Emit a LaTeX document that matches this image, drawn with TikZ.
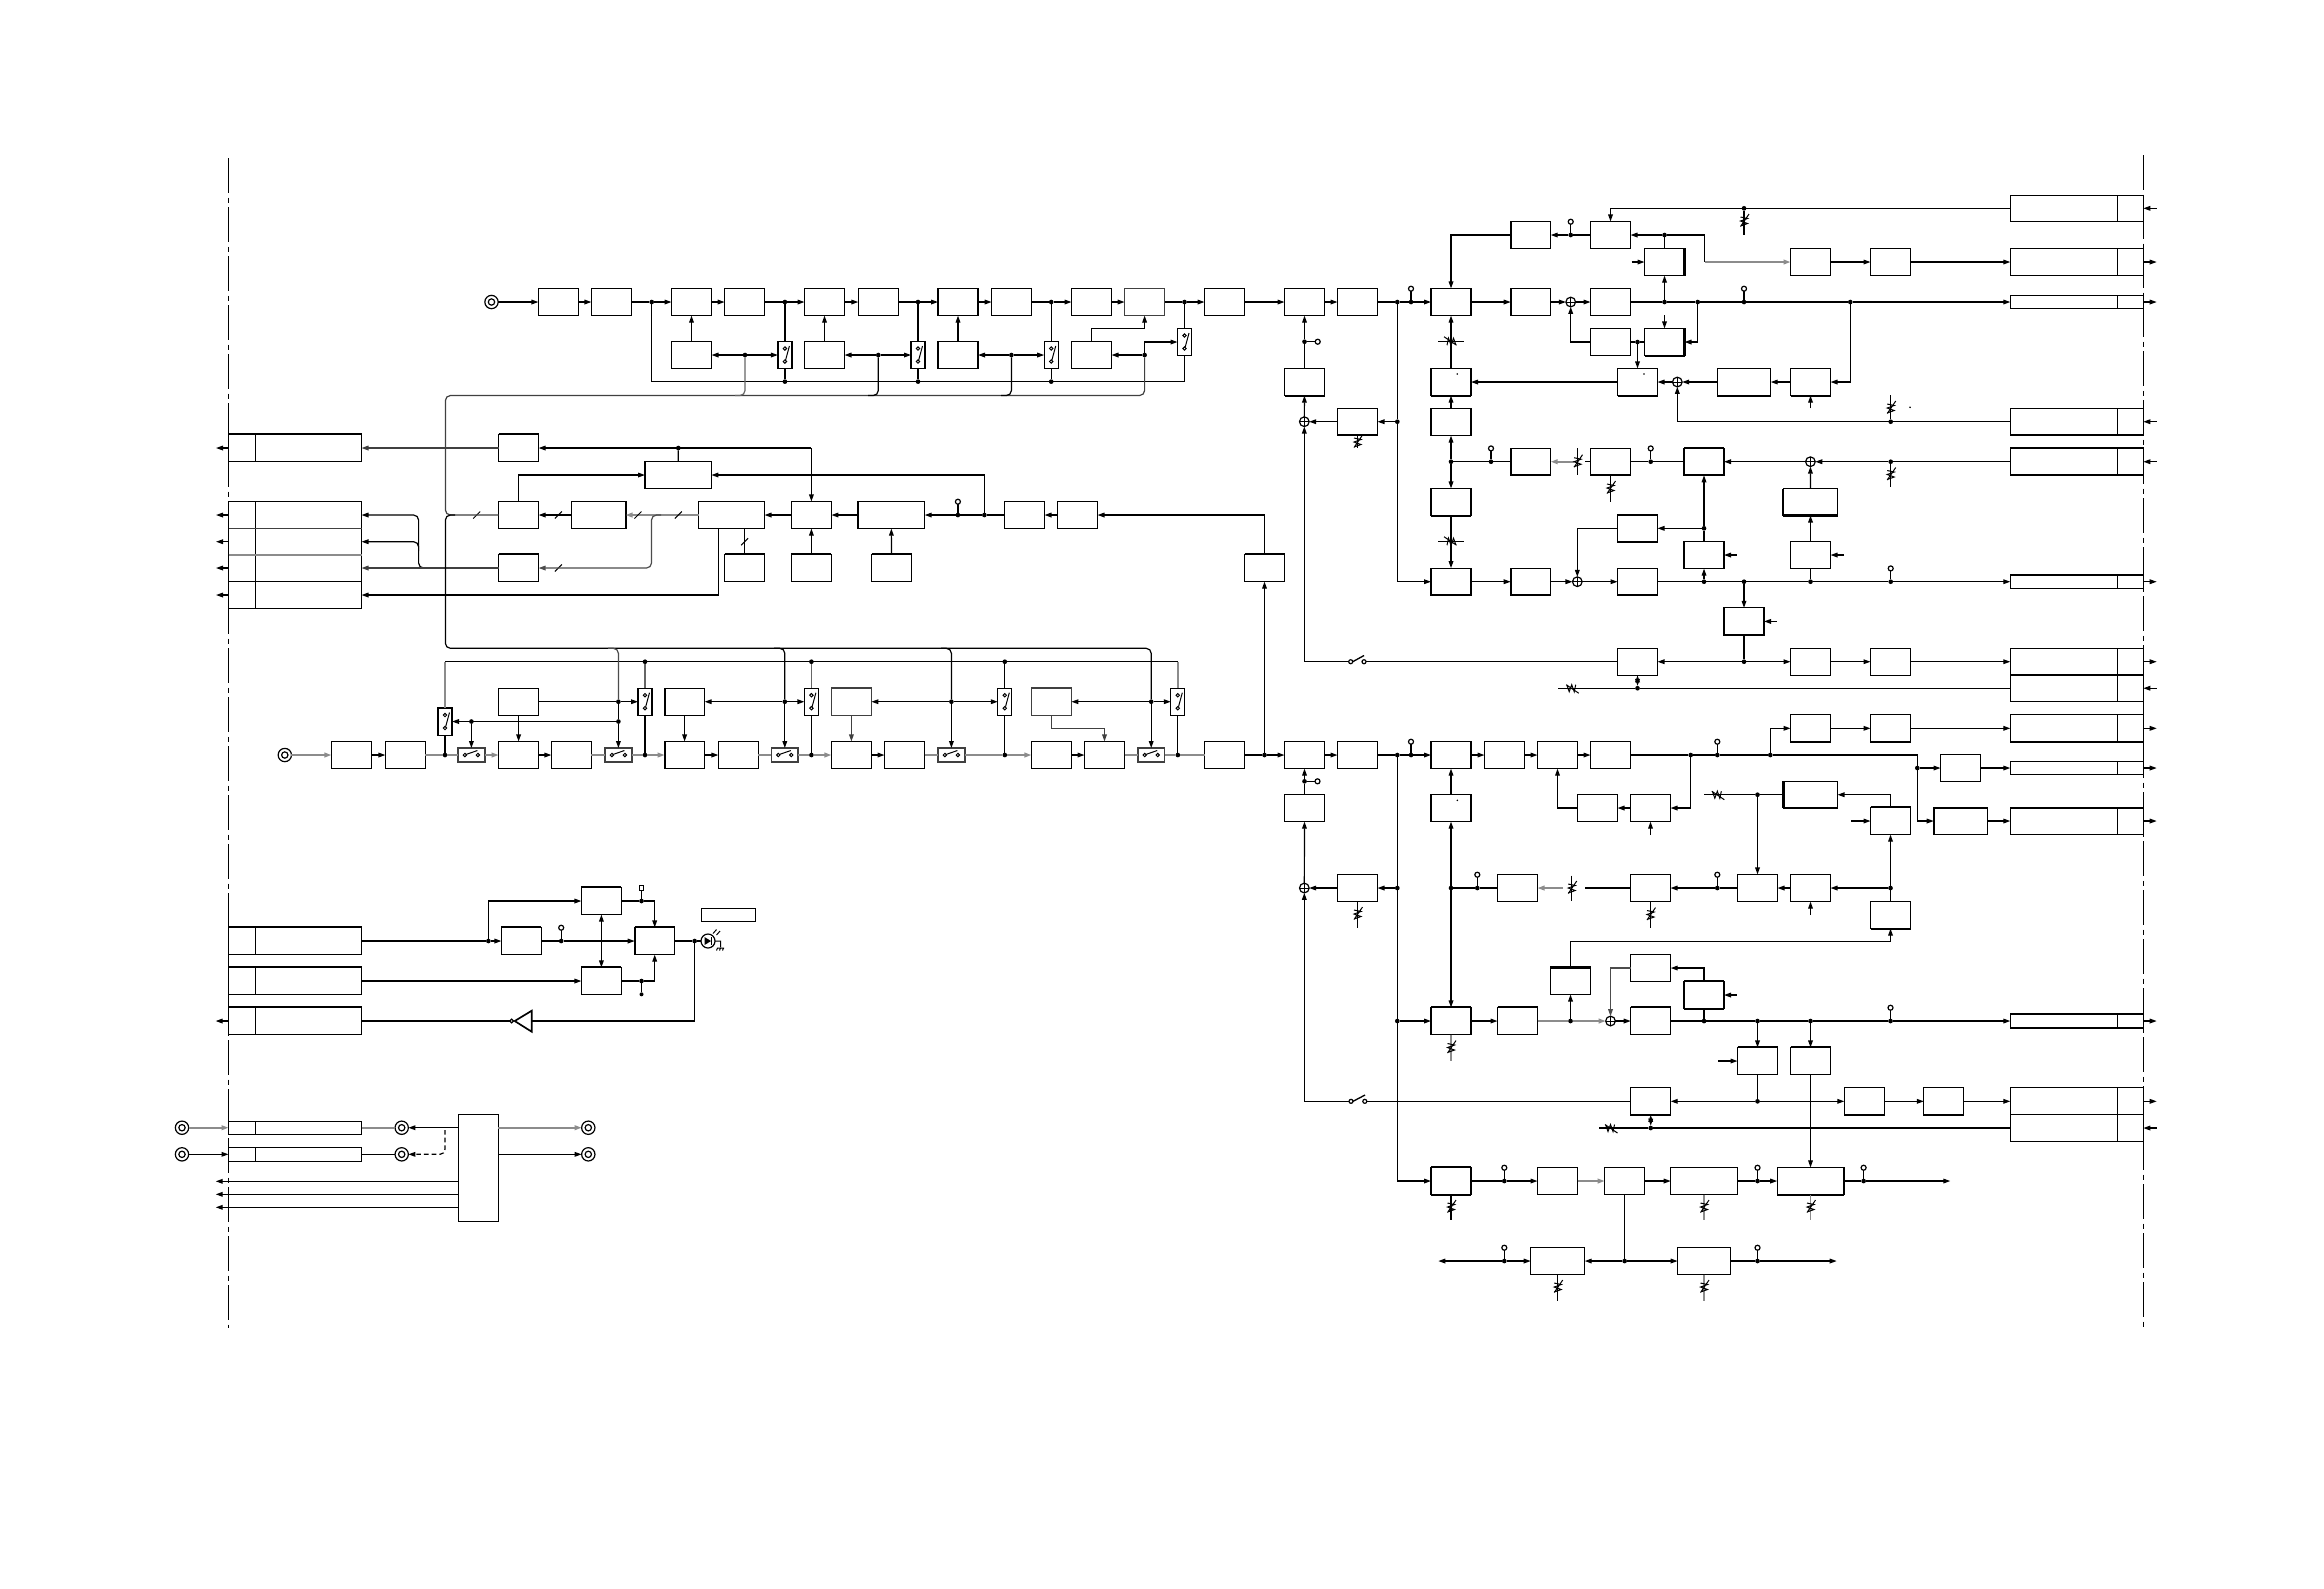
\documentclass[tikz,border=0pt]{standalone}
\usetikzlibrary{arrows.meta}
\def\uu{0.3pt}
\tikzset{
  bx/.style={draw,rectangle,inner sep=0pt,outer sep=0pt},
  jn/.style={circle,fill=black,inner sep=0pt,outer sep=0pt,minimum size=1.4pt},
  tpn/.style={circle,draw,fill=white,inner sep=0pt,outer sep=0pt,minimum size=1.5pt},
  jko/.style={circle,draw,inner sep=0pt,outer sep=0pt,minimum size=4pt},
  jki/.style={circle,draw,inner sep=0pt,outer sep=0pt,minimum size=1.9pt},
  smn/.style={circle,draw,inner sep=0pt,outer sep=0pt,minimum size=2.9pt},
  ar/.style={-{Triangle[length=2.1pt,width=1.4pt]}},
  bothar/.style={{Triangle[length=2.1pt,width=1.4pt]}-{Triangle[length=2.1pt,width=1.4pt]}},
  thk/.style={line width=0.62pt},
  gl/.style={draw=black!45,line width=0.5pt},
  hl/.style={draw=black!75,line width=0.45pt},
  rc/.style={rounded corners=1.5pt},
  dashline/.style={dash pattern=on 10.5pt off 1.35pt on 1.5pt off 1.35pt},
  small/.style={line width=0.3pt}
}
\newcommand\Bx[6][]{\node[bx,minimum width={#5*\uu},minimum height={#6*\uu},#1] (#2) at (#3,#4) {};}
\newcommand\Bd[4][]{\Bx[#1]{#2}{#3}{#4}{40}{27.2}}
\newcommand\TT[1]{\draw[thk] (#1.north west) -- (#1.north east);}
\newcommand\TB[1]{\draw[thk] (#1.south west) -- (#1.south east);}
\newcommand\TL[1]{\draw[thk] (#1.north west) -- (#1.south west);}
\newcommand\TR[1]{\draw[thk] (#1.north east) -- (#1.south east);}
\newcommand\Jn[3]{\node[jn] (#1) at (#2,#3) {};}
\newcommand\Jt[3]{\node[jn] (#1) at (#2,#3) {};\node[tpn] (#1t) at (#2,#3-13.3) {};\draw (#1) -- (#1t);}
\newcommand\Jk[3]{\node[jko] (#1) at (#2,#3) {};\node[jki] (#1i) at (#2,#3) {};}
\newcommand\Sm[3]{\node[smn] (#1) at (#2,#3) {};\draw[small] (#1.north) -- (#1.south);\draw[small] (#1.west) -- (#1.east);}
\newcommand\SwV[3]{\Bx{#1}{#2}{#3}{14}{27.2}
  \draw[small,fill=white] (#2,#3-6.5) circle (1.7);
  \draw[small,fill=white] (#2,#3+6.5) circle (1.7);
  \draw[small] (#2+0.7,#3+5) -- (#2+4.5,#3-9);}
\newcommand\SwH[3]{\Bx[hl]{#1}{#2}{#3}{26.8}{14}
  \draw[small,fill=white] (#2-6.5,#3) circle (1.7);
  \draw[small,fill=white] (#2+6.5,#3) circle (1.7);
  \draw[small] (#2-5,#3-0.7) -- (#2+6,#3-4.5);}
\newcommand\Vr[3]{\draw[shift={(#1,#2)},rotate=#3,small,line join=miter]
  (-3.5,5) -- (3.5,2.5) -- (-3.5,0) -- (3.5,-2.5) -- (-3.5,-4) (-3.5,5.5) -- (5,-7);}
\newcommand\Sl[2]{\draw[small] (#1-3.5,#2+3.5) -- (#1+3.5,#2-3.5);}
\newcommand\RTb[3]{\Bx{#1}{2076.8}{#2}{133}{#3}\draw (2117.3,#2-#3/2) -- (2117.3,#2+#3/2);}
\newcommand\LTb[3]{\Bx{#1}{295}{#2}{133}{#3}\draw (255.3,#2-#3/2) -- (255.3,#2+#3/2);}
\newcommand\OutR[2]{\coordinate (#1o) at (2156.7,#2);\draw[ar] (#1) -- (#1o);}
\newcommand\InR[2]{\coordinate (#1o) at (2156.7,#2);\draw[ar] (#1o) -- (#1);}
\begin{document}
\begin{tikzpicture}[x=0.3pt,y=-0.3pt,line width=0.36pt,line cap=butt]
\useasboundingbox (0,0) rectangle (2324,1588);
\fill[white] (0,0) rectangle (2324,1588);
% boundary lines
\coordinate (dl1) at (228.5,158); \coordinate (dl2) at (228.5,1328);
\coordinate (dr1) at (2143.3,155); \coordinate (dr2) at (2143.3,1328);
\draw[dashline] (dl1) -- (dl2);
\draw[dashline] (dr1) -- (dr2);

% ===== top row =====
\Jk{ja}{491.5}{302}
\Bd{a1}{558.4}{302}\Bd{a2}{611.4}{302}\Bd{a3}{691.5}{302}\Bd{a4}{744.6}{302}
\Bd{a5}{824.5}{302}\Bd{a6}{878.3}{302}\Bd{a7}{958}{302}\Bd{a8}{1011.6}{302}
\Bd{a9}{1091.5}{302}\Bd[hl]{a10}{1144.6}{302}\Bd{a11}{1224.5}{302}
\Jn{ja1}{651.7}{302}\Jn{ja2}{784.9}{302}\Jn{ja3}{918}{302}\Jn{ja4}{1051.2}{302}\Jn{ja5}{1184.5}{302}
\draw[ar] (ja) -- (a1); \draw[ar] (a1) -- (a2); \draw (a2) -- (ja1); \draw[ar] (ja1) -- (a3);
\draw[ar] (a3) -- (a4); \draw (a4) -- (ja2); \draw[ar] (ja2) -- (a5); \draw[ar] (a5) -- (a6);
\draw (a6) -- (ja3); \draw[ar] (ja3) -- (a7); \draw[ar] (a7) -- (a8); \draw (a8) -- (ja4);
\draw[ar] (ja4) -- (a9); \draw[ar] (a9) -- (a10); \draw (a10) -- (ja5); \draw[ar] (ja5) -- (a11);
\Bd{c1}{691.5}{355}\Bd{c2}{824.5}{355}\Bd{c3}{958}{355}\Bd{c4}{1091.5}{355}
\Jn{jc1}{745}{355}\Jn{jc2}{878.3}{355}\Jn{jc3}{1011.4}{355}\Jn{jc4}{1144.6}{355}
\SwV{sv1}{784.9}{355}\SwV{sv2}{918}{355}\SwV{sv3}{1051.2}{355}\SwV{sv4}{1184.5}{342}
\draw[ar] (jc1) -- (c1); \draw[ar] (jc1) -- (sv1); \draw[ar] (jc2) -- (c2); \draw[ar] (jc2) -- (sv2);
\draw[ar] (jc3) -- (c3); \draw[ar] (jc3) -- (sv3); \draw[ar] (jc4) -- (c4); \draw[ar] (jc4) |- (sv4);
\draw[ar] (c1) -- (a3); \draw[ar] (c2) -- (a5); \draw[ar] (c3) -- (a7);
\coordinate (k1) at (1091.5,328.3); \draw[ar] (c4) -- (k1) -| (a10);
\coordinate (kb1) at (651.7,381.6); \coordinate (kb5) at (1184.5,381.6);
\Jn{jb2}{784.9}{381.6}\Jn{jb3}{918}{381.6}\Jn{jb4}{1051.2}{381.6}
\draw (ja1) -- (kb1) -- (kb5) -- (sv4); \draw (sv4) -- (ja5);
\draw (ja2) -- (sv1); \draw (sv1) -- (jb2); \draw (ja3) -- (sv2); \draw (sv2) -- (jb3);
\draw (ja4) -- (sv3); \draw (sv3) -- (jb4);

% ===== middle row =====
\Bd{m1}{1077.5}{515}\Bd{m2}{1024.5}{515}\Jn{jm}{984.4}{515}\Jt{jmt}{957.9}{515}
\Bx{m3}{891.3}{515}{66.8}{27.2}\Bd{m4}{811.4}{515}\Bx{m5}{731.6}{515}{65.8}{27.2}
\Bx{m6}{598.6}{515}{54}{27.2}\Bd{m7}{518.6}{515}\TR{m6}
\Bd{p1}{518.6}{448}\TT{p1}\Bx{p2}{678.2}{475}{66.4}{27.2}\TL{p2}
\Bd{n2}{518.6}{568}\TT{n2}\Bd{q1}{744.6}{568}\TT{q1}\Bd{q2}{811.4}{568}\TT{q2}\Bd{q3}{891.5}{568}\TT{q3}
\draw[ar] (m1) -- (m2); \draw (m2) -- (jm) -- (jmt); \draw[ar] (jmt) -- (m3); \draw[ar] (m3) -- (m4);
\draw[ar] (m4) -- (m5); \draw[ar,gl] (m5) -- (m6); \draw[ar] (m6) -- (m7);
\Sl{678.3}{515}\Sl{638}{515}\Sl{558.4}{515}\Sl{476.7}{515}\Sl{558.4}{568}\Sl{744.6}{541.7}
\coordinate (kp) at (811.4,448); \Jn{jp}{678.3}{448}
\draw[ar] (kp) -- (p1); \draw[ar] (kp) -- (m4); \draw (jp) -- (p2);
\draw[ar] (m7) |- (p2); \draw[ar] (jm) |- (p2);
\draw (q1) -- (m5.south -| q1); \draw[ar] (q2) -- (m4); \draw[ar] (q3) -- (m3);
\coordinate (kn) at (661,515); \coordinate (kn2) at (651.5,515); \coordinate (kn3) at (651.5,568);
\draw[ar,rc,draw=black!70] (kn) -- (kn2) -- (kn3) -- (n2);

% left tables
\LTb{tb1}{448}{27.4}\TT{tb1}
\Bx{tb2}{295}{555}{133}{106.6}\draw (255.3,501.7) -- (255.3,608.3);
\coordinate (tl1) at (228.5,528.3); \coordinate (tr1) at (361.5,528.3); \draw[draw=black!75] (tl1) -- (tr1);
\coordinate (tl2) at (228.5,555); \coordinate (tr2) at (361.5,555); \draw[gl,line width=0.7pt] (tl2) -- (tr2);
\coordinate (tl3) at (228.5,581.7); \coordinate (tr3) at (361.5,581.7); \draw (tl3) -- (tr3);
\foreach \nm/\yy in {oa/448,ob/515,oc/541.7,od/568,oe/595}{\coordinate (\nm) at (216,\yy); \coordinate (\nm r) at (228.5,\yy); \draw[ar] (\nm r) -- (\nm);}
\coordinate (ta) at (361.5,515); \coordinate (tb) at (361.5,541.7); \coordinate (tc) at (361.5,568); \coordinate (td) at (361.5,595);
\draw[ar,draw=black!75] (p1) -- (tb1);
\coordinate (ke1) at (428,568); \coordinate (ke2) at (418.6,568); \coordinate (ke3) at (418.6,515);
\draw[ar,rc] (ke1) -- (ke2) -- (ke3) -- (ta);
\coordinate (kf1) at (418.6,551); \coordinate (kf2) at (418.6,541.7);
\draw[ar,rc] (kf1) -- (kf2) -- (tb);
\draw[ar,draw=black!75] (n2) -- (tc);
\coordinate (kg1) at (718.6,528.6); \coordinate (kg2) at (718.6,595);
\draw[ar] (kg1) -- (kg2) -- (td);

% control bus with rounded corners
\coordinate (c1a) at (445.4,395.5); \coordinate (c1b) at (445.4,515);
\coordinate (c1c) at (745,395.5); \coordinate (c1d) at (878.3,395.5); \coordinate (c1e) at (1011.4,395.5); \coordinate (c1f) at (1144.6,395.5);
\draw[rc,draw=black!75] (jc4) -- (c1f) -- (c1a) -- (c1b) -- (m7);
\draw[rc,draw=black!60] (jc1) -- (c1c) -- (735,395.5);
\draw[rc] (jc2) -- (c1d) -- (868,395.5);
\draw[rc] (jc3) -- (c1e) -- (1001,395.5);

% ===== lower row =====
\Jk{jd}{284.8}{755}
\Bd{d1}{351.4}{755}\Bd{d2}{405.4}{755}\Jn{jd1}{445}{755}\SwH{sh1}{471.4}{755}
\Bd{d3}{518.6}{755}\Bd{d4}{571.4}{755}\SwH{sh2}{618.4}{755}\Jn{jd2}{645}{755}
\Bd{d5}{684.6}{755}\TL{d5}\Bd{d6}{738.4}{755}\SwH{sh3}{784.8}{755}\Jn{jd3}{811.4}{755}
\Bd{d7}{851.4}{755}\Bd{d8}{904.5}{755}\SwH{sh4}{951.4}{755}\Jn{jd4}{1004.8}{755}
\Bd{d9}{1051.4}{755}\Bd{d10}{1104.5}{755}\SwH{sh5}{1151.2}{755}\Jn{jd5}{1177.8}{755}
\Bd{d11}{1224.6}{755}\Jn{jd6}{1264.5}{755}
\draw[ar,gl] (jd) -- (d1); \draw[ar] (d1) -- (d2); \draw[gl] (d2) -- (jd1); \draw[gl] (jd1) -- (sh1);
\draw[ar,gl] (sh1) -- (d3); \draw[ar] (d3) -- (d4); \draw[gl] (d4) -- (sh2); \draw[gl] (sh2) -- (jd2);
\draw[ar,gl] (jd2) -- (d5); \draw[ar] (d5) -- (d6); \draw[gl] (d6) -- (sh3); \draw[gl] (sh3) -- (jd3);
\draw[ar,gl] (jd3) -- (d7); \draw[ar] (d7) -- (d8); \draw[gl] (d8) -- (sh4); \draw[gl] (sh4) -- (jd4);
\draw[ar,gl] (jd4) -- (d9); \draw[ar] (d9) -- (d10); \draw[gl] (d10) -- (sh5); \draw[gl] (sh5) -- (jd5);
\draw[gl] (jd5) -- (d11); \draw (d11) -- (jd6);
\Bd{u1}{518.6}{701.7}\Bd{u2}{684.6}{701.7}\TL{u2}\Bd[hl]{u3}{851.4}{701.7}\Bd[hl]{u4}{1051.4}{701.7}
\SwV{w1}{645}{701.7}\SwV{w2}{811.4}{701.7}\SwV{w3}{1004.8}{701.7}\SwV{w4}{1177.8}{701.7}\SwV{w0}{445}{721.5}
\Jn{jv1}{618.4}{701.7}\Jn{jv2}{784.8}{701.7}\Jn{jv3}{951.4}{701.7}\Jn{jv4}{1151.2}{701.7}
\Jn{jv5}{618.4}{721.5}\Jn{jv6}{471.4}{721.5}
\draw (u1) -- (jv1); \draw[ar] (jv1) -- (w1); \draw[ar] (jv2) -- (u2); \draw[ar] (jv2) -- (w2);
\draw[ar] (jv3) -- (u3); \draw[ar] (jv3) -- (w3); \draw[ar] (jv4) -- (u4); \draw[ar] (jv4) -- (w4);
\draw[ar] (jv5) -- (w0); \draw[ar] (jv6) -- (sh1);
\draw[ar] (u1) -- (d3); \draw[ar] (u2) -- (d5); \draw[ar,draw=black!75] (u3) -- (d7);
\coordinate (k2) at (1051.4,728.3); \draw[ar,draw=black!75] (u4) -- (k2) -| (d10);
\coordinate (kh0) at (445,661.7); \coordinate (kh5) at (1177.8,661.7);
\Jn{jh1}{645}{661.7}\Jn{jh2}{811.4}{661.7}\Jn{jh3}{1004.8}{661.7}
\draw (kh0) -- (kh5); \draw[gl] (kh0) -- (w0); \draw (w0) -- (jd1);
\draw[draw=black!60] (jh1) -- (w1); \draw (w1) -- (jd2);
\draw[draw=black!60] (jh2) -- (w2); \draw (w2) -- (jd3);
\draw (jh3) -- (w3); \draw (w3) -- (jd4);
\draw[gl] (kh5) -- (w4); \draw (w4) -- (jd5);
% lower control bus
\coordinate (b0a) at (455,515); \coordinate (b0b) at (445.4,515); \coordinate (b0c) at (445.4,648.3);
\coordinate (b1k) at (618.4,648.3); \coordinate (b2k) at (784.8,648.3); \coordinate (b3k) at (951.4,648.3); \coordinate (b4k) at (1151.2,648.3);
\draw[rc] (b0a) -- (b0b) -- (b0c) -- (b4k) -- (jv4); \draw[ar] (jv4) -- (sh5);
\draw[rc,draw=black!70] (608,648.3) -- (b1k) -- (jv1); \draw (jv1) -- (jv5); \draw[ar] (jv5) -- (sh2);
\draw[rc] (774,648.3) -- (b2k) -- (jv2); \draw[ar] (jv2) -- (sh3);
\draw[rc] (941,648.3) -- (b3k) -- (jv3); \draw[ar] (jv3) -- (sh4);

% ===== LED block =====
\LTb{t3}{941}{27.2}\TT{t3}\LTb{t4}{981}{27.2}\TT{t4}\LTb{t5}{1021}{27.2}\TT{t5}
\Jn{jl1}{488.4}{941}\Bd{l1}{521.4}{941}\TT{l1}\Bd{l2}{601.4}{901}\TT{l2}\Bd{l3}{601.4}{981}\TT{l3}
\Bd{l4}{654.7}{941}\TT{l4}\TL{l4}\Jt{jl2}{561.2}{941}\Jn{jl3}{641.5}{901}\Jn{jl4}{641.5}{981}\Jn{jl5}{694.6}{941}
\node[bx,fill=white,minimum size=1.3pt,minimum width=4*\uu,minimum height=4.5*\uu] (sq) at (641.5,888) {};
\node[jn,minimum size=1.2pt] (dotb) at (641.5,994.3) {};
\draw (t3) -- (jl1); \draw[ar] (jl1) -- (l1); \coordinate (k3) at (488.4,901); \draw[ar] (jl1) -- (k3) -- (l2);
\draw (l1) -- (jl2); \draw[ar] (jl2) -- (l4); \draw[ar] (t4) -- (l3);
\draw[bothar] (l2) -- (l3);
\draw (l2) -- (jl3) -- (sq); \draw[ar] (jl3) -| (l4); \draw (l3) -- (jl4) -- (dotb); \draw[ar] (jl4) -| (l4);
\node[smn,minimum size=4.2pt] (led) at (708,941) {};
\draw (l4) -- (jl5) -- (led);
\fill (704.5,937) -- (704.5,945) -- (711,941) -- cycle; \draw[small] (711.5,937) -- (711.5,945);
\draw[small] (713,933.5) -- (716.5,929.5) (716.5,935) -- (720,931);
\draw[small] (715,941) -- (720.5,941) -- (720.5,947) (717,948) -- (724,948) (717.5,948) -- (716.5,950.5) (720.5,948) -- (719.5,950.5) (723.5,948) -- (722.5,950.5);
\Bx{lab}{728.3}{915}{54}{13.4}
\node[tpn,minimum size=1.1pt] (invc) at (511.6,1021) {};
\coordinate (inva) at (514.7,1021); \coordinate (invb) at (531.7,1021);
\draw[line width=.5pt] (inva) -- (531.7,1010.7) -- (531.7,1031.7) -- cycle;
\coordinate (k4) at (694.6,1021); \draw (jl5) -- (k4) -- (invb); \draw (invc) -- (t5);
\coordinate (t5o) at (215.6,1021); \coordinate (t5l) at (228.5,1021); \draw[ar] (t5l) -- (t5o);

% ===== bottom-left =====
\Jk{x1}{182}{1127.7}\Jk{x2}{182}{1154.3}\LTb{x3}{1127.7}{13}\LTb{x4}{1154.3}{13.6}
\Jk{x5}{401.7}{1127.7}\Jk{x6}{401.7}{1154.3}\Jk{x7}{588.3}{1127.7}\Jk{x8}{588.3}{1154.3}
\Bx{xb}{478.3}{1167.8}{40}{107}
\draw[ar,gl] (x1) -- (x3); \draw[ar] (x2) -- (x4);
\draw[gl] (x3) -- (x5); \draw (x4) -- (x6);
\coordinate (xb1) at (458.3,1127.7); \coordinate (xb2) at (498.3,1127.7); \coordinate (xb3) at (498.3,1154.3);
\draw[ar] (xb1) -- (x5); \draw[ar,gl] (xb2) -- (x7); \draw[ar] (xb3) -- (x8);
\coordinate (xd1) at (445,1130); \coordinate (xd2) at (445,1154.3);
\draw[dash pattern=on 1.4pt off 0.9pt,rc,ar] (xd1) -- (xd2) -- (x6);
\foreach \nm/\yy in {xa/1181.3,xc/1194.3,xe/1207.3}{\coordinate (\nm) at (215.7,\yy); \coordinate (\nm b) at (458.3,\yy); \draw[ar] (\nm b) -- (\nm);}

% ===== right top =====
\Bd{b1}{1304.5}{302}\Bd{b2}{1357.5}{302}\Jn{jb0}{1397.3}{302}\Jt{jb1}{1411}{302}
\Bd{b3}{1451}{302}\TL{b3}\TR{b3}\Bd{b4}{1530.7}{302}\TL{b4}\Sm{s1}{1570.7}{302}\Bd{b5}{1610.5}{302}
\Jn{jr1}{1664.5}{302}\Jn{jr2}{1697.7}{302}\Jt{jr3}{1744}{302}\Jn{jr4}{1850.3}{302}
\RTb{rt3}{302}{13}\OutR{rt3}{302}
\draw[ar] (a11) -- (b1); \draw[ar] (b1) -- (b2); \draw (b2) -- (jb0) -- (jb1); \draw[ar] (jb1) -- (b3);
\draw[ar] (b3) -- (b4); \draw[ar] (b4) -- (s1); \draw[ar] (s1) -- (b5);
\draw (b5) -- (jr1) -- (jr2) -- (jr3) -- (jr4); \draw[ar] (jr4) -- (rt3);
\Bd{b6}{1530.7}{235}\TL{b6}\Jt{jr5}{1570.7}{235}\Bd{b7}{1610.5}{235}\Jn{jr6}{1664.5}{235}
\Bd{b8}{1810.5}{262}\Bd{b9}{1890.5}{262}\Bd{b10}{1664.5}{262}\TR{b10}
\RTb{rt2}{262}{27.4}\OutR{rt2}{262}
\draw[ar] (jr6) -- (b7); \draw (b7) -- (jr5); \draw[ar] (jr5) -- (b6); \draw[ar] (b6) -| (b3);
\coordinate (k5) at (1704.7,235); \coordinate (k6) at (1704.7,262);
\draw (jr6) -- (k5) -- (k6); \draw[ar,gl] (k6) -- (b8); \draw[ar] (b8) -- (b9); \draw[ar] (b9) -- (rt2);
\draw (jr6) -- (b10); \draw[ar] (jr1) -- (b10); \coordinate (i1) at (1631.7,262); \draw[ar] (i1) -- (b10);
\RTb{rt1}{208.3}{26}\InR{rt1}{208.3}
\Jn{jr7}{1744}{208.3}\draw[ar] (rt1) -| (b7);
\coordinate (v1) at (1744,235); \draw (jr7) -- (v1); \Vr{1744}{221}{0}
\Bd{b11}{1610.5}{342}\Bd{b12}{1664.5}{342}\TR{b12}\TB{b12}\Jn{jr8}{1637.5}{342}
\coordinate (i2) at (1664.5,315); \draw[ar] (i2) -- (b12);
\draw[ar] (jr2) |- (b12); \draw (b11) -- (jr8) -- (b12);
\draw[ar] (b11) -| (s1);
\Bd{b13}{1637.5}{382}\TB{b13}\Sm{s2}{1677.3}{382}\Bx{b14}{1744}{382}{53.4}{27.2}\TB{b14}\Bd{b15}{1810.5}{382}\TB{b15}
\Bd{b16}{1451}{382}\TL{b16}\TR{b16}\TB{b16}
\draw[ar] (jr8) -- (b13); \draw[ar] (b15) -- (b14); \draw[ar] (b14) -- (s2); \draw[ar] (s2) -- (b13); \draw[ar] (b13) -- (b16);
\draw[ar] (jr4) |- (b15); \coordinate (i3) at (1810.5,408.3); \draw[ar] (i3) -- (b15);
\RTb{rt4}{421.7}{26.7}\TB{rt4}\InR{rt4}{421.7}
\Jn{jr9}{1890.7}{421.7}\draw[ar] (rt4) -| (s2);
\coordinate (v2) at (1890.7,395); \draw (jr9) -- (v2); \Vr{1890.7}{408}{0}
\fill (1457.3,374) circle (0.9); \fill (1644,374) circle (0.9); \fill (1910,407.3) circle (0.9); \fill (1457.3,800.3) circle (0.9);
% col 1451
\draw[ar] (b16) -- (b3); \Vr{1451}{341.7}{90}
\coordinate (v3a) at (1438,341.7); \coordinate (v3b) at (1464,341.7); \draw[small] (v3a) -- (v3b);
\Bd{b17}{1451}{422}\TL{b17}\TR{b17}\Jn{jr10}{1451}{461.7}\Bd{b18}{1451}{502}\TL{b18}\TR{b18}\TB{b18}
\Bd{b19}{1451}{581.7}\TL{b19}\TR{b19}\TB{b19}
\draw[ar] (b17) -- (b16); \draw[ar] (jr10) -- (b17); \draw[ar] (jr10) -- (b18); \draw[ar] (b18) -- (b19);
\Vr{1451}{541.7}{90}\coordinate (v4a) at (1438,541.7); \coordinate (v4b) at (1464,541.7); \draw[small] (v4a) -- (v4b);
% row 461.7
\Jt{jr11}{1491}{461.7}\Bd{b20}{1530.7}{461.7}\TB{b20}\TL{b20}\Bd{b21}{1610.5}{461.7}\TB{b21}\Jt{jr12}{1650.7}{461.7}
\Bd{b22}{1704}{461.7}\TL{b22}\TR{b22}\TT{b22}\TB{b22}\Sm{s3}{1810.4}{461.7}\Jn{jr13}{1890.7}{461.7}
\RTb{rt5}{461.7}{27.4}\TB{rt5}\InR{rt5}{461.7}
\draw (jr10) -- (jr11) -- (b20);
\coordinate (v5a) at (1574,461.7); \coordinate (v5b) at (1585,461.7); \coordinate (v5c) at (1577.5,448.3); \coordinate (v5d) at (1577.5,475);
\draw[ar,gl] (v5a) -- (b20); \draw (b21) -- (v5b); \draw (v5c) -- (v5d); \Vr{1577.5}{461.7}{0}
\draw (b21) -- (jr12); \draw (jr12) -- (b22); \draw[ar] (s3) -- (b22); \draw[ar] (jr13) -- (s3); \draw (rt5) -- (jr13);
\coordinate (v6) at (1890.7,487.3); \draw (jr13) -- (v6); \Vr{1890.7}{474.5}{0}
\coordinate (v7) at (1610.5,501.7); \draw (b21) -- (v7); \Vr{1610.5}{488}{0}
\Bx{b23}{1810.5}{502}{54.4}{27}\TL{b23}\TB{b23}\Bd{b24}{1810.5}{555}\Bd{b25}{1704}{555}\TR{b25}
\draw[ar] (b24) -- (b23); \draw[ar] (b23) -- (s3);
\coordinate (i4) at (1844,555); \draw[ar] (i4) -- (b24);
\coordinate (i5) at (1736.7,555); \draw[ar] (i5) -- (b25);
\Jn{jr14}{1704}{581.7}\Jn{jr15}{1744}{581.7}\Jn{jr16}{1810.5}{581.7}\Jt{jr17}{1890.7}{581.7}
\draw (b24) -- (jr16); \draw[ar] (jr14) -- (b25);
\Jn{jr18}{1704}{528.3}\draw (b25) -- (jr18); \draw[ar] (jr18) -- (b22);
\Bd{b26}{1637.5}{528.3}\TT{b26}\draw[ar] (jr18) -- (b26);
\Sm{s4}{1577.3}{581.7}\draw[ar] (b26) -| (s4);
% row 581.7
\Jn{jq1}{1397.3}{421.7}\coordinate (k7) at (1397.3,581.7);
\draw (jb0) -- (jq1) -- (k7); \draw[ar] (k7) -- (b19);
\Bd{b27}{1530.7}{581.7}\TL{b27}\TB{b27}\Bd{b28}{1637.5}{581.7}\TB{b28}
\RTb{rt6}{581.7}{13.3}\TT{rt6}\OutR{rt6}{581.7}
\draw[ar] (b19) -- (b27); \draw[ar] (b27) -- (s4); \draw[ar] (s4) -- (b28);
\draw (b28) -- (jr14) -- (jr15) -- (jr16) -- (jr17); \draw[ar] (jr17) -- (rt6);
\Bd{b29}{1744}{621.4}\TL{b29}\TR{b29}\draw[ar] (jr15) -- (b29);
\coordinate (i6) at (1776.7,621.4); \draw[ar] (i6) -- (b29);
\Jn{jr19}{1744}{661.7}\draw (b29) -- (jr19);
\Bd{b30}{1810.5}{661.7}\Bd{b31}{1890.5}{661.7}\Bd{b32}{1637.5}{661.7}
\RTb{rt7}{661.7}{26.7}\RTb{rt7b}{688.2}{26.3}\OutR{rt7}{661.7}\InR{rt7b}{688.2}
\draw[ar] (jr19) -- (b30); \draw[ar] (b30) -- (b31); \draw[ar] (b31) -- (rt7); \draw[ar] (jr19) -- (b32);
\node[tpn,minimum size=1.2pt] (swa) at (1364,661.7) {}; \node[tpn,minimum size=1.2pt] (swb) at (1350.7,661.7) {};
\draw (b32) -- (swa); \draw[line width=.4pt] (swb.east) -- (1364,655.5);
\Sm{s5}{1304.3}{421.7}\draw[ar] (swb) -| (s5);
\Jn{jr20}{1637.5}{688.2}\coordinate (v8) at (1558.3,688.2);
\draw (rt7b) -- (jr20) -- (v8); \Vr{1571.7}{688.2}{-90} \draw[bothar] (jr20) -- (b32);
\Bd{b33}{1304.5}{382}\TB{b33}\Jn{jr21}{1304.5}{341.7}\node[tpn] (jr21t) at (1317.7,341.7) {};
\draw (jr21) -- (jr21t);
\draw[ar] (s5) -- (b33); \draw (b33) -- (jr21); \draw[ar] (jr21) -- (b1);
\Bd{b34}{1357.5}{421.7}\TB{b34}\draw[ar] (jq1) -- (b34); \draw[ar] (b34) -- (s5);
\coordinate (v9) at (1357.5,448.3); \draw (b34) -- (v9); \Vr{1357.5}{442}{0}
\Bd{b35}{1264.5}{568}\TT{b35}
\coordinate (k8) at (1264.5,515); \draw[ar] (b35) -- (k8) -- (m1); \draw[ar] (jd6) -- (b35);
% ===== right lower =====
\Bd{e1}{1304.5}{755}\Bd{e2}{1357.5}{755}\Jn{je0}{1397.3}{755}\Jt{je1}{1411}{755}
\Bd{e3}{1451}{755}\TL{e3}\TR{e3}\Bd{e4}{1504.5}{755}\Bd{e5}{1557.5}{755}\Bd{e6}{1610.5}{755}
\Jn{je2}{1690.7}{755}\Jt{je3}{1717.3}{755}\Jn{je4}{1770.3}{755}
\draw[ar] (jd6) -- (e1); \draw[ar] (e1) -- (e2); \draw (e2) -- (je0) -- (je1); \draw[ar] (je1) -- (e3);
\draw[ar] (e3) -- (e4); \draw[ar] (e4) -- (e5); \draw[ar] (e5) -- (e6);
\draw (e6) -- (je2) -- (je3) -- (je4);
\Bd{g5}{1810.5}{728.3}\Bd{g6}{1890.5}{728.3}\RTb{rt8}{728.3}{27.4}\OutR{rt8}{728.3}
\draw[ar] (je4) |- (g5); \draw[ar] (g5) -- (g6); \draw[ar] (g6) -- (rt8);
\coordinate (k9) at (1917.3,755); \Jn{je5}{1917.3}{768}
\Bd{k2b}{1960.5}{768}\Bx{k1b}{1960.5}{821}{53.6}{26.7}\TT{k1b}\TL{k1b}
\RTb{rt9}{768}{13}\RTb{rt10}{821}{26.7}\TT{rt10}\OutR{rt9}{768}\OutR{rt10}{821}
\coordinate (k10) at (1917.3,821);
\draw (je4) -- (k9) -- (je5) -- (k10); \draw[ar] (k10) -- (k1b); \draw[ar] (je5) -- (k2b);
\draw[ar] (k2b) -- (rt9); \draw[ar] (k1b) -- (rt10);
\Bd{e7}{1304.5}{808}\Jn{je6}{1304.5}{781.3}\node[tpn] (je6t) at (1317.5,781.3) {};\draw (je6) -- (je6t);
\draw (e7) -- (je6); \draw[ar] (je6) -- (e1);
\Sm{s6}{1304.3}{888}\draw[ar] (s6) -- (e7);
\Bd{e8}{1357.5}{888}\Jn{je7}{1397.3}{888}\draw[ar] (je7) -- (e8); \draw[ar] (e8) -- (s6);
\coordinate (v10) at (1357.5,927.7); \draw (e8) -- (v10); \Vr{1357.5}{914}{0}
\Bd{e9}{1451}{808}\TL{e9}\TR{e9}\draw[ar] (e9) -- (e3);
\Jn{je8}{1451}{888}\draw[ar] (je8) -- (e9);
\Jt{je9}{1477.3}{888}\Bd{e10}{1517.5}{888}
\Bd{e11}{1650.5}{888}\Jt{je10}{1717.3}{888}\Bd{e12}{1757.5}{888}\Bd{e13}{1810.5}{888}\Jn{je11}{1890.5}{888}
\draw (je8) -- (je9) -- (e10);
\coordinate (v11a) at (1563,888); \coordinate (v11b) at (1585,888); \coordinate (v11c) at (1571.7,875.7); \coordinate (v11d) at (1571.7,900.7);
\draw[ar,gl] (v11a) -- (e10); \draw (e11) -- (v11b); \draw (v11c) -- (v11d); \Vr{1571.7}{888}{0}
\draw[ar] (je10) -- (e11); \draw (e12) -- (je10); \draw[ar] (e13) -- (e12); \draw[ar] (je11) -- (e13);
\coordinate (v12) at (1650.5,928.3); \draw (e11) -- (v12); \Vr{1650.5}{914.5}{0}
\coordinate (i7) at (1810.5,915); \draw[ar] (i7) -- (e13);
\Bd{e14}{1890.5}{821}\TT{e14}\Bd{e15}{1890.5}{915}\TB{e15}\draw[ar] (je11) -- (e14); \draw (e15) -- (je11);
\coordinate (i8) at (1851,821); \draw[ar] (i8) -- (e14);
\Bx{e16}{1810.5}{794.7}{54}{27}\TL{e16}\TB{e16}\draw[ar] (e14) |- (e16);
\Jn{je12}{1757.5}{794.7}\coordinate (v13) at (1704,794.7); \draw (e16) -- (je12) -- (v13); \Vr{1717.3}{794.7}{-90}
\draw[ar] (je12) -- (e12);
\Bd{e17}{1650.5}{808}\Bd{e18}{1597.5}{808}\draw[ar] (je2) |- (e17); \draw[ar] (e17) -- (e18);
\coordinate (i9) at (1650.5,835); \draw[ar] (i9) -- (e17); \draw[ar] (e18) -| (e5);
\Bx{e19}{1570.5}{981}{40.4}{27}\TT{e19}
\coordinate (k11) at (1570.5,941.7); \coordinate (k12) at (1890.5,941.7);
\draw (e19) -- (k11) -- (k12); \draw[ar] (k12) -- (e15);
% row 1021
\Bd{f1}{1451}{1021}\TT{f1}\TL{f1}\TR{f1}\Bd{f2}{1517.5}{1021}\TT{f2}\Jn{jf1}{1570.5}{1021}\Sm{s7}{1610.5}{1021}
\Bd{f3}{1650.7}{1021}\TT{f3}\Jn{jf2}{1704}{1021}\Jn{jf3}{1757.5}{1021}\Jn{jf4}{1810.5}{1021}\Jt{jf5}{1890.5}{1021}
\RTb{rt11}{1021}{14}\TB{rt11}\OutR{rt11}{1021}
\Jn{jf0}{1397.3}{1021}\coordinate (k13) at (1397.3,1181);
\draw (je0) -- (je7) -- (jf0) -- (k13); \draw[ar] (jf0) -- (f1); \draw[ar] (je8) -- (f1);
\draw[ar] (f1) -- (f2); \draw[gl] (f2) -- (jf1); \draw[ar,gl] (jf1) -- (s7); \draw[ar] (s7) -- (f3);
\draw (f3) -- (jf2) -- (jf3) -- (jf4) -- (jf5); \draw[ar] (jf5) -- (rt11); \draw[ar] (jf1) -- (e19);
\Bd{f4}{1650.7}{968}\draw[ar,draw=black!70] (f4) -| (s7);
\Bd{f5}{1704}{995}\TL{f5}\TR{f5}\TT{f5}\TB{f5}\draw (jf2) -- (f5);
\coordinate (k14) at (1704,968); \draw[ar] (f5) -- (k14) -- (f4);
\coordinate (i10) at (1736.7,995); \draw[ar] (i10) -- (f5);
\coordinate (v14) at (1451,1061); \draw[gl] (f1) -- (v14); \Vr{1451}{1047.5}{0}
\Bd{f6}{1757.5}{1061}\TT{f6}\Bd{f7}{1810.5}{1061}\TT{f7}
\draw[ar] (jf3) -- (f6); \draw[ar] (jf4) -- (f7);
\coordinate (i11) at (1718,1061); \draw[ar] (i11) -- (f6);
\Jn{jg1}{1757.5}{1101.3}\draw (f6) -- (jg1);
\Bd{g1}{1650.7}{1101.3}\Bd{g2}{1864.3}{1101.3}\Bd{g3}{1943.8}{1101.3}
\RTb{rt12}{1101.3}{27}\RTb{rt12b}{1128}{27}\OutR{rt12}{1101.3}\InR{rt12b}{1128}
\draw[ar] (jg1) -- (g1); \draw[ar] (jg1) -- (g2); \draw[ar] (g2) -- (g3); \draw[ar] (g3) -- (rt12);
\node[tpn,minimum size=1.2pt] (swc) at (1364.8,1101.3) {}; \node[tpn,minimum size=1.2pt] (swd) at (1351,1101.3) {};
\draw (g1) -- (swc); \draw[line width=.4pt] (swd.east) -- (1365,1095);
\draw[ar] (swd) -| (s6);
\Jn{jg2}{1650.7}{1128}\coordinate (v15) at (1598.5,1128); \draw (rt12b) -- (jg2) -- (v15); \Vr{1610.5}{1128}{-90}
\draw[bothar] (jg2) -- (g1);
% row 1181
\Bd{h1}{1451}{1181}\TL{h1}\TR{h1}\TB{h1}\TT{h1}\Jt{jh4}{1504.3}{1181}
\Bd{h2}{1557.5}{1181}\Bd{h3}{1624.6}{1181}\Bx{h4}{1704}{1181}{66.6}{27.2}\Jt{jh5}{1757.5}{1181}
\Bx{h5}{1810.5}{1181}{66.6}{27.2}\TR{h5}\TB{h5}\Jt{jh6}{1863.6}{1181}
\coordinate (eh) at (1950.3,1181);
\draw[ar] (k13) -- (h1); \draw (h1) -- (jh4); \draw[ar] (jh4) -- (h2); \draw[ar,gl] (h2) -- (h3);
\draw[ar] (h3) -- (h4); \draw (h4) -- (jh5); \draw[ar] (jh5) -- (h5); \draw (h5) -- (jh6); \draw[ar] (jh6) -- (eh);
\draw[ar,line width=.28pt] (f7) -- (h5);
\coordinate (v16) at (1451,1220); \draw (h1) -- (v16); \Vr{1451}{1207}{0}
\coordinate (v17) at (1704,1220); \draw[gl] (h4) -- (v17); \Vr{1704}{1207}{0}
\coordinate (v18) at (1810.5,1220); \draw[gl] (h5) -- (v18); \Vr{1810.5}{1207}{0}
% row 1261
\Bx{h6}{1557.7}{1261}{54}{27.2}\Bx{h7}{1704}{1261}{52.8}{27.2}\Jn{jh7}{1624.6}{1261}
\Jt{jh8}{1504.3}{1261}\Jt{jh9}{1757.5}{1261}
\coordinate (eh2) at (1836.7,1261); \coordinate (eh3) at (1438.3,1261);
\draw[line width=.28pt] (h3) -- (jh7); \draw[ar] (jh7) -- (h6); \draw[ar] (jh7) -- (h7);
\draw[ar] (jh8) -- (h6); \draw[ar] (jh8) -- (eh3); \draw (h7) -- (jh9); \draw[ar] (jh9) -- (eh2);
\coordinate (v19) at (1557.7,1300.7); \draw (h6) -- (v19); \Vr{1557.7}{1287}{0}
\coordinate (v20) at (1704,1300.7); \draw[gl] (h7) -- (v20); \Vr{1704}{1287}{0}
\end{tikzpicture}
\end{document}
